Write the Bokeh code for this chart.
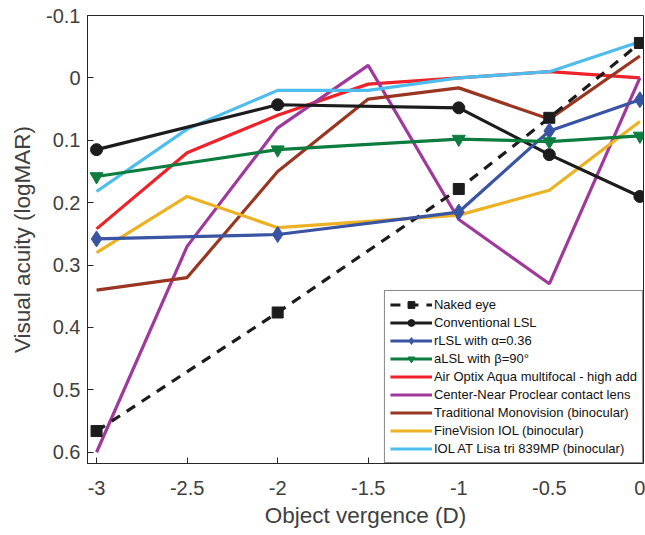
from bokeh.plotting import figure
from bokeh.models import Range1d, FixedTicker, Legend, LegendItem
from bokeh.embed import file_html
from bokeh.resources import INLINE

# ---------------- data ----------------
x_all = [-3, -2.5, -2, -1.5, -1, -0.5, 0]
x_mark = [-3, -2, -1, -0.5, 0]

naked_eye = [0.566, 0.376, 0.178, 0.064, -0.056]
conv_lsl = [0.115, 0.043, 0.048, 0.123, 0.190]
rlsl = [0.258, 0.251, 0.215, 0.085, 0.035]
alsl = [0.158, 0.115, 0.098, 0.102, 0.093]

air_optix = [0.242, 0.120, 0.060, 0.010, 0.000, -0.010, 0.000]
center_near = [0.600, 0.270, 0.080, -0.020, 0.227, 0.330, 0.000]
monovision = [0.340, 0.320, 0.150, 0.034, 0.016, 0.066, -0.035]
finevision = [0.280, 0.190, 0.240, 0.230, 0.220, 0.180, 0.070]
iol_lisa = [0.182, 0.082, 0.020, 0.020, 0.000, -0.010, -0.058]

x_ticks = [-3, -2.5, -2, -1.5, -1, -0.5, 0]
x_tick_labels = ["-3", "-2.5", "-2", "-1.5", "-1", "-0.5", "0"]
y_ticks = [-0.1, 0, 0.1, 0.2, 0.3, 0.4, 0.5, 0.6]
y_tick_labels = ["-0.1", "0", "0.1", "0.2", "0.3", "0.4", "0.5", "0.6"]

FONT = "Liberation Sans"
GRAY = "#404040"

p = figure(width=645, height=533, output_backend="svg", toolbar_location=None,
           x_range=Range1d(-3.05, 0.02), y_range=Range1d(0.618, -0.1),
           min_border_left=87, min_border_right=2, min_border_top=15, min_border_bottom=70)
p.grid.visible = False
p.outline_line_color = "#262626"
p.outline_line_width = 1
p.background_fill_color = "white"

p.xaxis.ticker = FixedTicker(ticks=x_ticks)
p.yaxis.ticker = FixedTicker(ticks=y_ticks)
p.xaxis.major_label_overrides = dict(zip(x_ticks, x_tick_labels))
p.yaxis.major_label_overrides = dict(zip(y_ticks, y_tick_labels))
for ax in (p.xaxis[0], p.yaxis[0]):
    ax.major_tick_in = 6
    ax.major_tick_out = 0
    ax.minor_tick_line_color = None
    ax.axis_line_color = "#262626"
    ax.major_tick_line_color = "#262626"
    ax.major_label_text_font = FONT
    ax.major_label_text_font_size = "20px"
    ax.major_label_text_color = GRAY
    ax.axis_label_text_font = FONT
    ax.axis_label_text_font_size = "22.5px"
    ax.axis_label_text_font_style = "normal"
    ax.axis_label_text_color = GRAY
p.xaxis.axis_label = "Object vergence (D)"
p.yaxis.axis_label = "Visual acuity (logMAR)"
p.xaxis.major_label_standoff = 17
p.xaxis.axis_label_standoff = 5
p.yaxis.major_label_standoff = 7
p.yaxis.axis_label_standoff = 8

BLACK = "#1c1c1c"
BLUE = "#3a54a4"
GREEN = "#0c7d3e"
RED = "#ee2228"
PURPLE = "#a0399c"
BROWN = "#9a3522"
YELLOW = "#edb223"
CYAN = "#4dbdee"
LW = 3.2

items = []

r1 = p.line(x_mark, naked_eye, line_color=BLACK, line_width=LW, line_dash="10 8")
m1 = p.scatter(x_mark, naked_eye, marker="square", size=11, fill_color=BLACK, line_color=BLACK)
items.append(LegendItem(label="Naked eye", renderers=[r1, m1]))

r2 = p.line(x_mark, conv_lsl, line_color=BLACK, line_width=LW)
m2 = p.scatter(x_mark, conv_lsl, marker="circle", size=12, fill_color=BLACK, line_color=BLACK)
items.append(LegendItem(label="Conventional LSL", renderers=[r2, m2]))

r3 = p.line(x_mark, rlsl, line_color=BLUE, line_width=LW)
m3 = p.scatter(x_mark, rlsl, marker="diamond", size=16, fill_color=BLUE, line_color=BLUE)
items.append(LegendItem(label="rLSL with α=0.36", renderers=[r3, m3]))

r4 = p.line(x_mark, alsl, line_color=GREEN, line_width=LW)
m4 = p.scatter(x_mark, alsl, marker="inverted_triangle", size=13, fill_color=GREEN, line_color=GREEN)
items.append(LegendItem(label="aLSL with β=90°", renderers=[r4, m4]))

series = [
    ("Air Optix Aqua multifocal - high add", air_optix, RED),
    ("Center-Near Proclear contact lens", center_near, PURPLE),
    ("Traditional Monovision (binocular)", monovision, BROWN),
    ("FineVision IOL (binocular)", finevision, YELLOW),
    ("IOL AT Lisa tri 839MP (binocular)", iol_lisa, CYAN),
]
for label, ys, col in series:
    r = p.line(x_all, ys, line_color=col, line_width=LW)
    items.append(LegendItem(label=label, renderers=[r]))

# marker-bearing series drawn on top
rend = p.renderers
front = [r1, m1, r2, m2, r3, m3, r4, m4]
p.renderers = [r for r in rend if r not in front] + front

legend = Legend(items=items, location="bottom_right",
                label_text_font=FONT, label_text_font_size="13px", label_text_color="#111111",
                glyph_width=42, glyph_height=17, label_height=17, spacing=1,
                label_standoff=2, padding=5, margin=0,
                border_line_color="#111111", border_line_width=1,
                background_fill_color="white", background_fill_alpha=1)
p.add_layout(legend)

open("out.html", "w").write(file_html(p, INLINE))
